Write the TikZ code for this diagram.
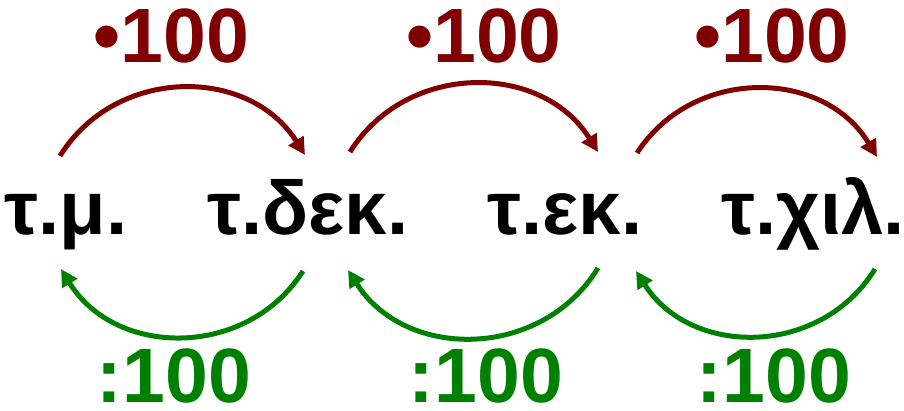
\documentclass[tikz,border=0pt]{standalone}
\usepackage{fontspec}
\setmainfont{Liberation Sans}
\usetikzlibrary{arrows.meta}
\definecolor{mulred}{HTML}{800000}
\definecolor{divgreen}{HTML}{008000}
\tikzset{
  unit/.style={inner sep=0pt, anchor=base, text depth=0pt, font=\fontsize{76}{80}\selectfont\bfseries, text=black},
  oplabel/.style={inner sep=0pt, anchor=base, text depth=0pt, font=\fontsize{77}{80}\selectfont\bfseries},
  mularc/.style={draw=mulred, line width=5pt, -{Triangle[length=17pt,width=17pt]}, bend left=58, looseness=1.1},
  divarc/.style={draw=divgreen, line width=5pt, -{Triangle[length=17pt,width=17pt]}, bend left=58, looseness=1.1}
}
\begin{document}
\begin{tikzpicture}[x=1pt,y=1pt]
\useasboundingbox (0,0) rectangle (904,411);
% unit labels
\node[unit] (tm)  at (66,176)  {τ.μ.};
\node[unit] (tdek) at (308,176) {τ.δεκ.};
\node[unit] (tek) at (565,176) {τ.εκ.};
\node[unit] (tchil) at (813,176) {τ.χιλ.};
% operation labels
\node[oplabel, text=mulred] (m1) at (171.5,348) {•100};
\node[oplabel, text=mulred] (m2) at (484,348) {•100};
\node[oplabel, text=mulred] (m3) at (772,348) {•100};
\node[oplabel, text=divgreen] (d1) at (174,8) {:100};
\node[oplabel, text=divgreen] (d2) at (486,8) {:100};
\node[oplabel, text=divgreen] (d3) at (774,8) {:100};
% arc end points
\coordinate (a1s) at (60,255);
\coordinate (a1e) at (305,256);
\coordinate (a2s) at (350,259);
\coordinate (a2e) at (598,259);
\coordinate (a3s) at (637,258);
\coordinate (a3e) at (877,254);
\coordinate (b1s) at (303,140);
\coordinate (b1e) at (61,142);
\coordinate (b2s) at (598,143);
\coordinate (b2e) at (348,141);
\coordinate (b3s) at (875,142);
\coordinate (b3e) at (636,140);
% arcs
\draw[mularc] (a1s) to (a1e);
\draw[mularc] (a2s) to (a2e);
\draw[mularc] (a3s) to (a3e);
\draw[divarc] (b1s) to (b1e);
\draw[divarc] (b2s) to (b2e);
\draw[divarc] (b3s) to (b3e);
\end{tikzpicture}
\end{document}
